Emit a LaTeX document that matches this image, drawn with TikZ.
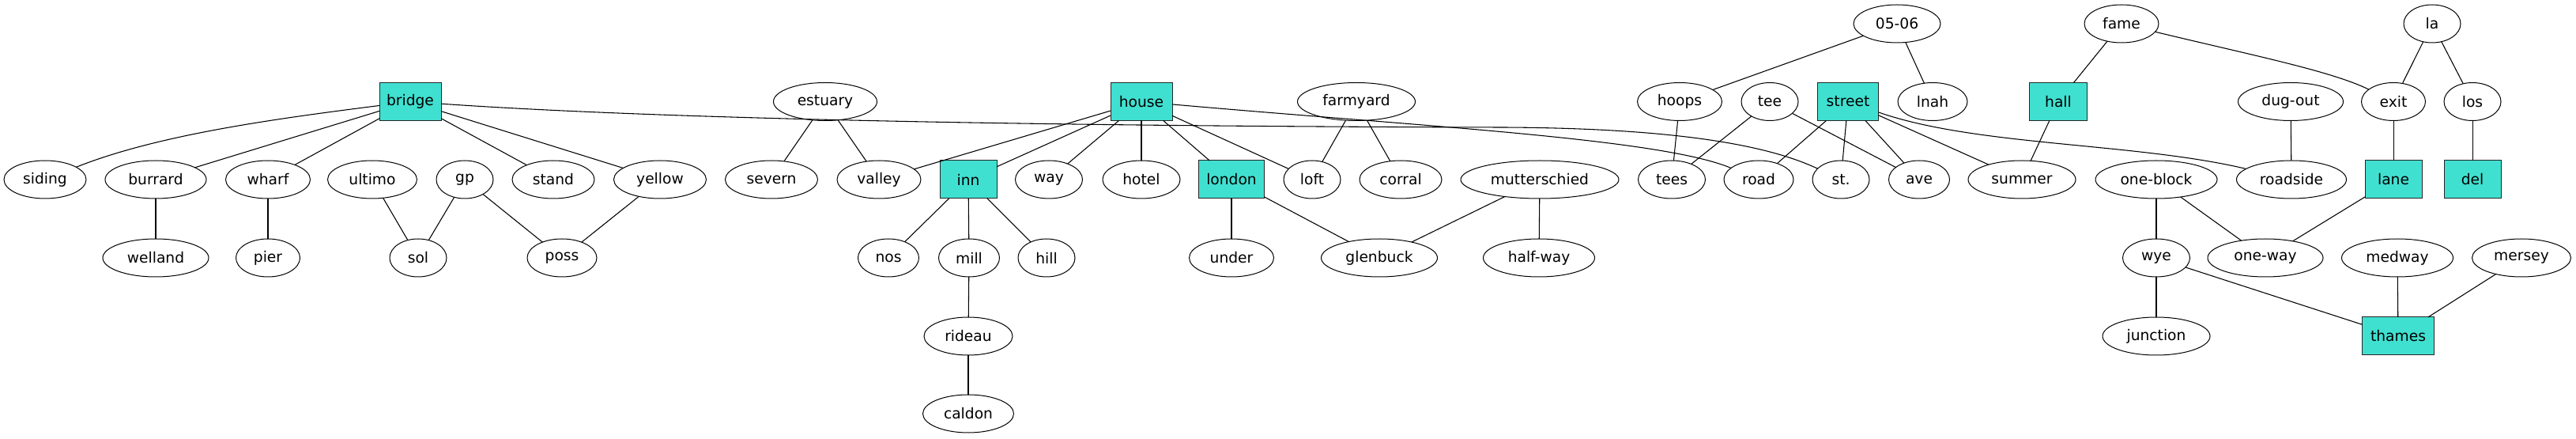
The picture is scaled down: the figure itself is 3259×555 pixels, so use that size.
\documentclass[tikz,border=0pt]{standalone}
\usepackage{fontspec}
\setmainfont{DejaVu Sans}
\usetikzlibrary{shapes.geometric}
\definecolor{turq}{HTML}{40E0D0}
\begin{document}
\begin{tikzpicture}[x=0.75pt,y=-0.75pt,
  every node/.style={font=\fontsize{14}{16}\selectfont, inner sep=0pt, outer sep=0pt},
  el/.style={ellipse, draw=black, line width=0.75pt, minimum height=36pt, minimum width=#1*0.75pt},
  bx/.style={rectangle, draw=black!85, line width=0.75pt, fill=turq, minimum height=36pt, minimum width=#1*0.75pt},
  conn/.style={draw=black, line width=0.8pt}
]
\useasboundingbox (0,0) rectangle (3259,555);
% row 0
\node[el=110] (n0506) at (2400,30) {05-06};
\node[el=94] (fame) at (2684,30) {fame};
\node[el=72] (la) at (3077,30) {la};
% row 1
\node[bx=78] (bridge) at (519,128.5) {bridge};
\node[el=131] (estuary) at (1044,128.5) {estuary};
\node[bx=78] (house) at (1444,128.5) {house};
\node[el=149] (farmyard) at (1716,128.5) {farmyard};
\node[el=107] (hoops) at (2125,128.5) {hoops};
\node[el=72] (tee) at (2239,128.5) {tee};
\node[bx=77] (street) at (2338,128.5) {street};
\node[el=88] (lnah) at (2445,128.5) {lnah};
\node[bx=73] (hall) at (2604,128.5) {hall};
\node[el=133] (dugout) at (2898,128.5) {dug-out};
\node[el=81] (exit) at (3028,128.5) {exit};
\node[el=72] (los) at (3128,128.5) {los};
% row 2
\node[el=104] (siding) at (57,227) {siding};
\node[el=128] (burrard) at (197,227) {burrard};
\node[el=107] (wharf) at (339,227) {wharf};
\node[el=113] (ultimo) at (471,227) {ultimo};
\node[el=72] (gp) at (588,227) {gp};
\node[el=104] (stand) at (700,227) {stand};
\node[el=117] (yellow) at (835,227) {yellow};
\node[el=117] (severn) at (976,227) {severn};
\node[el=106] (valley) at (1112,227) {valley};
\node[bx=72] (inn) at (1225,227) {inn};
\node[el=85] (way) at (1327,227) {way};
\node[el=98] (hotel) at (1444,227) {hotel};
\node[bx=83] (london) at (1558,227) {london};
\node[el=72] (loft) at (1660,227) {loft};
\node[el=104] (corral) at (1772,227) {corral};
\node[el=200] (mutterschied) at (1948,227) {mutterschied};
\node[el=85] (tees) at (2115,227) {tees};
\node[el=88] (road) at (2225,227) {road};
\node[el=72] (st) at (2329,227) {st.};
\node[el=77] (ave) at (2428,227) {ave};
\node[el=136] (summer) at (2558,227) {summer};
\node[el=154] (oneblock) at (2728,227) {one-block};
\node[el=139] (roadside) at (2899,227) {roadside};
\node[bx=72] (lane) at (3028,227) {lane};
\node[bx=72] (del) at (3128,227) {del};
% row 3
\node[el=134] (welland) at (197,326) {welland};
\node[el=81] (pier) at (339,326) {pier};
\node[el=72] (sol) at (529,326) {sol};
\node[el=88] (poss) at (711,326) {poss};
\node[el=77] (nos) at (1124,326) {nos};
\node[el=77] (mill) at (1226,326) {mill};
\node[el=72] (hill) at (1324,326) {hill};
\node[el=107] (under) at (1558,326) {under};
\node[el=147] (glenbuck) at (1745,326) {glenbuck};
\node[el=141] (halfway) at (1947,326) {half-way};
\node[el=85] (wye) at (2728,326) {wye};
\node[el=146] (oneway) at (2866,326) {one-way};
\node[el=141] (medway) at (3033,326) {medway};
\node[el=125] (mersey) at (3190,326) {mersey};
% row 4
\node[el=112] (rideau) at (1225,425) {rideau};
\node[el=136] (junction) at (2728,425) {junction};
\node[bx=91] (thames) at (3034,425) {thames};
% row 5
\node[el=115] (caldon) at (1225,523) {caldon};

% edges
\draw[conn] (bridge) .. controls (350,150) and (200,170) .. (siding);
\draw[conn] (bridge) -- (burrard);
\draw[conn] (bridge) -- (wharf);
\draw[conn] (bridge) -- (stand);
\draw[conn] (bridge) -- (yellow);
\draw[conn] (bridge) .. controls (900,155) and (1500,160) .. (1900,161) .. controls (2150,162) and (2250,190) .. (st);
\draw[conn] (burrard) -- (welland);
\draw[conn] (wharf) -- (pier);
\draw[conn] (ultimo) -- (sol);
\draw[conn] (gp) -- (sol);
\draw[conn] (gp) -- (poss);
\draw[conn] (yellow) -- (poss);
\draw[conn] (estuary) -- (severn);
\draw[conn] (estuary) -- (valley);
\draw[conn] (house) -- (valley);
\draw[conn] (house) -- (inn);
\draw[conn] (house) -- (way);
\draw[conn] (house) -- (hotel);
\draw[conn] (house) -- (london);
\draw[conn] (house) -- (loft);
\draw[conn] (house) .. controls (1800,160) and (2100,175) .. (road);
\draw[conn] (inn) -- (nos);
\draw[conn] (inn) -- (mill);
\draw[conn] (inn) -- (hill);
\draw[conn] (mill) -- (rideau);
\draw[conn] (rideau) -- (caldon);
\draw[conn] (london) -- (under);
\draw[conn] (london) -- (glenbuck);
\draw[conn] (farmyard) -- (loft);
\draw[conn] (farmyard) -- (corral);
\draw[conn] (mutterschied) -- (glenbuck);
\draw[conn] (mutterschied) -- (halfway);
\draw[conn] (n0506) -- (hoops);
\draw[conn] (n0506) -- (lnah);
\draw[conn] (hoops) -- (tees);
\draw[conn] (tee) -- (tees);
\draw[conn] (tee) -- (ave);
\draw[conn] (street) -- (road);
\draw[conn] (street) -- (st);
\draw[conn] (street) -- (ave);
\draw[conn] (street) -- (summer);
\draw[conn] (street) .. controls (2500,185) and (2700,180) .. (roadside);
\draw[conn] (fame) -- (hall);
\draw[conn] (fame) .. controls (2850,70) and (2950,90) .. (exit);
\draw[conn] (hall) -- (summer);
\draw[conn] (la) -- (exit);
\draw[conn] (la) -- (los);
\draw[conn] (exit) -- (lane);
\draw[conn] (los) -- (del);
\draw[conn] (dugout) -- (roadside);
\draw[conn] (oneblock) -- (wye);
\draw[conn] (oneblock) -- (oneway);
\draw[conn] (lane) -- (oneway);
\draw[conn] (wye) -- (junction);
\draw[conn] (wye) -- (thames);
\draw[conn] (medway) -- (thames);
\draw[conn] (mersey) -- (thames);
\end{tikzpicture}
\end{document}
